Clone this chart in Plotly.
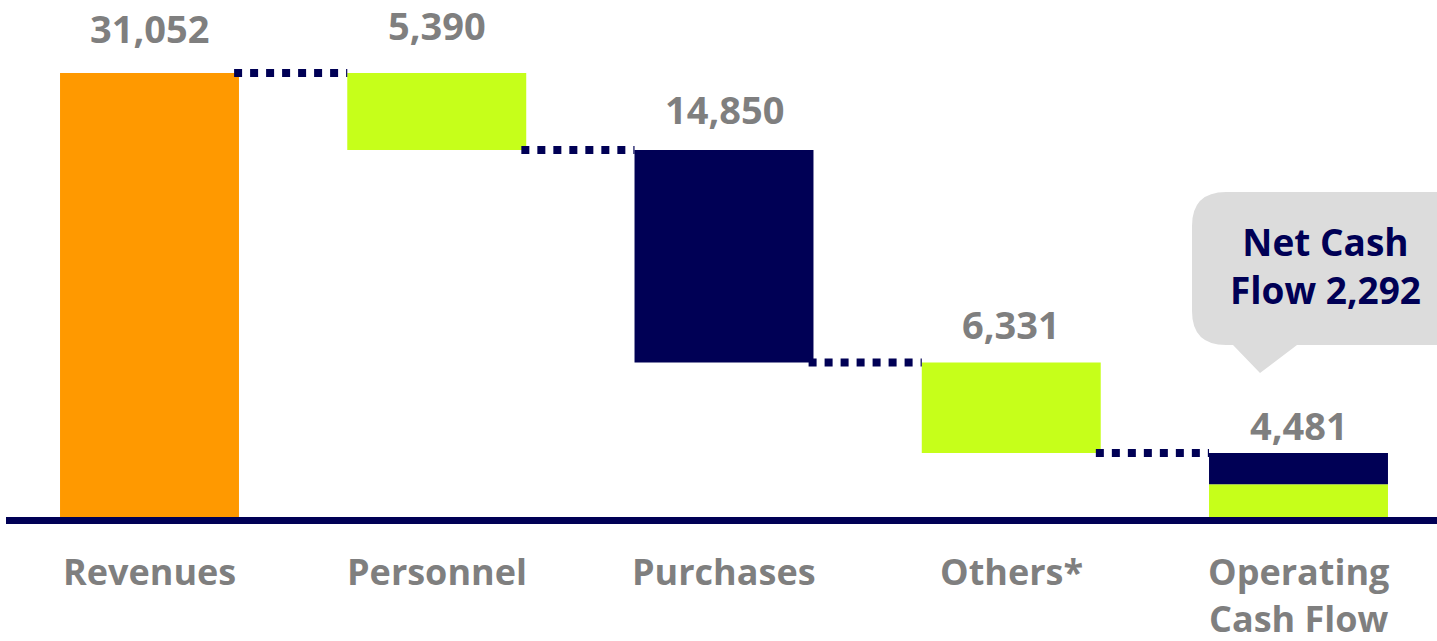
import plotly.graph_objects as go

# ---- data ----
categories = ["Revenues", "Personnel", "Purchases", "Others*", "Operating<br>Cash Flow"]
values = [31052, 5390, 14850, 6331, 4481]
value_labels = ["31,052", "5,390", "14,850", "6,331", "4,481"]
net_cash_flow = 2292
net_cash_label = "Net Cash<br>Flow 2,292"

ORANGE = "#FF9900"
GREEN = "#C6FF1A"
NAVY = "#000055"
GRAY = "#7F7F7F"
BUBBLE = "#DCDCDC"
FONT = "Open Sans"

W, H = 1437, 641
PLOT_BOTTOM = 517  # pixel of baseline
Y_MAX = 36156

# waterfall bases/tops
tops, bases = [], []
running = 0
for i, v in enumerate(values[:4]):
    if i == 0:
        bases.append(0); tops.append(v); running = v
    else:
        bases.append(running - v); tops.append(running); running -= v
bar_colors = [ORANGE, GREEN, NAVY, GREEN]

fig = go.Figure()
xs = list(range(len(categories)))
bw = 0.623
fig.add_trace(go.Bar(x=xs[:4], y=values[:4], base=bases, marker_color=bar_colors,
                     width=bw, marker_line_width=0, hoverinfo="skip"))
fig.add_trace(go.Bar(x=[4], y=[net_cash_flow], base=[0], marker_color=GREEN,
                     width=bw, marker_line_width=0, hoverinfo="skip"))
fig.add_trace(go.Bar(x=[4], y=[values[4] - net_cash_flow], base=[net_cash_flow],
                     marker_color=NAVY, width=bw, marker_line_width=0, hoverinfo="skip"))

all_tops = tops + [values[4]]
all_bottoms = bases + [0]

# connectors
for i in range(4):
    level = all_bottoms[i] if i > 0 else all_tops[0]
    fig.add_shape(type="line", xref="x", yref="y",
                  x0=i + bw / 2 - 0.017, x1=i + 1 - bw / 2, y0=level, y1=level,
                  line=dict(color=NAVY, width=8, dash="dot"), layer="above")

# baseline (paper-referenced so it is not clipped)
fig.add_shape(type="rect", xref="paper", yref="paper", x0=6 / W, x1=1.0,
              y0=-7 / PLOT_BOTTOM, y1=0,
              fillcolor=NAVY, line_width=0, layer="above")

# value labels
label_shift = [45, 48, 41, 38, 28]
for i, t in enumerate(value_labels):
    fig.add_annotation(x=i, y=all_tops[i], xref="x", yref="y", text=t, showarrow=False,
                       yanchor="middle", yshift=label_shift[i],
                       font=dict(family=FONT, size=38, color=GRAY, weight="bold"))

# category labels
for i, c in enumerate(categories):
    fig.add_annotation(x=i, y=0, xref="paper" if False else "x", yref="paper", text=c,
                       showarrow=False, yanchor="top", yshift=-28,
                       font=dict(family=FONT, size=36, color=GRAY, weight="bold"))

# callout bubble (pixel geometry -> paper coords)
def px(xp):
    return xp / W
def py(yp):
    return (PLOT_BOTTOM - yp) / PLOT_BOTTOM

L, R, T, B, r = 1192, 1470, 192, 345, 34
pb0, pb1, tipx, tipy = 1233, 1297, 1260, 373
path = (f"M {px(L + r)},{py(T)} L {px(R - r)},{py(T)} "
        f"Q {px(R)},{py(T)} {px(R)},{py(T + r)} L {px(R)},{py(B - r)} "
        f"Q {px(R)},{py(B)} {px(R - r)},{py(B)} L {px(pb1)},{py(B)} "
        f"L {px(tipx)},{py(tipy)} L {px(pb0)},{py(B)} L {px(L + r)},{py(B)} "
        f"Q {px(L)},{py(B)} {px(L)},{py(B - r)} L {px(L)},{py(T + r)} "
        f"Q {px(L)},{py(T)} {px(L + r)},{py(T)} Z")
fig.add_shape(type="path", xref="paper", yref="paper", path=path,
              fillcolor=BUBBLE, line_width=0, layer="above")
fig.add_annotation(x=px(1325), y=py(266), xref="paper", yref="paper", text=net_cash_label,
                   showarrow=False, xanchor="center", yanchor="middle", align="center",
                   font=dict(family=FONT, size=37, color=NAVY, weight="bold"))

x0 = -149.5 / 287.25
x1 = 4 + (W - 1298.5) / 287.25
fig.update_layout(
    width=W, height=H, margin=dict(l=0, r=0, t=0, b=H - PLOT_BOTTOM),
    barmode="overlay", showlegend=False,
    plot_bgcolor="white", paper_bgcolor="white",
    xaxis=dict(range=[x0, x1], visible=False, fixedrange=True),
    yaxis=dict(range=[0, Y_MAX], visible=False, fixedrange=True),
)
fig.write_html("out.html", config={"displayModeBar": False})
